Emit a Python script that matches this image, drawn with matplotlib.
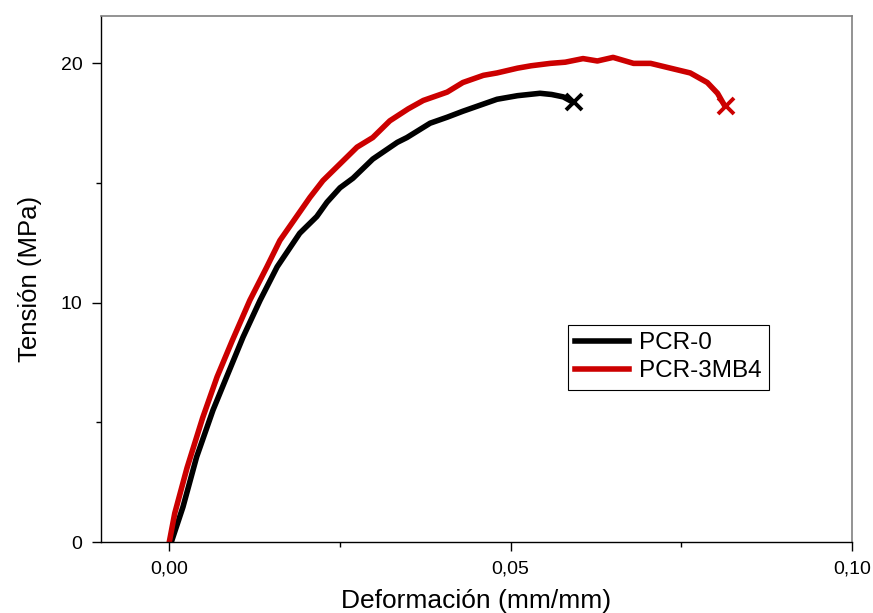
import matplotlib.pyplot as plt
from matplotlib.ticker import MultipleLocator, FuncFormatter

plt.rcParams['font.family'] = ['Liberation Sans', 'DejaVu Sans']

# -----------------------------
# DATOS
# -----------------------------

def_pcr0 = [0.0003, 0.0020, 0.0040, 0.0064, 0.0084, 0.0108, 0.0133, 0.0158,
            0.0191, 0.0216, 0.0231, 0.0250, 0.0269, 0.0298, 0.0334, 0.0348,
            0.0382, 0.0407, 0.0430, 0.0460, 0.0480, 0.0510, 0.0543, 0.0560,
            0.0577, 0.0590]
ten_pcr0 = [0.0, 1.46, 3.55, 5.51, 6.9, 8.56, 10.1, 11.5,
            12.9, 13.6, 14.2, 14.8, 15.2, 16.0, 16.7, 16.9,
            17.5, 17.75, 18.0, 18.3, 18.5, 18.65, 18.75, 18.7,
            18.6, 18.4]

def_pcr3 = [0.0, 0.0008, 0.0026, 0.0049, 0.0070, 0.0092, 0.0118, 0.0143,
            0.0162, 0.0184, 0.0206, 0.0225, 0.0250, 0.0275, 0.0298, 0.0323,
            0.0350, 0.0372, 0.0407, 0.0430, 0.0460, 0.0480, 0.0510, 0.0530,
            0.0558, 0.0580, 0.0606, 0.0627, 0.0650, 0.0680, 0.0705, 0.0734,
            0.0763, 0.0788, 0.0803, 0.0812]
ten_pcr3 = [0.0, 1.2, 3.1, 5.2, 6.9, 8.4, 10.1, 11.5,
            12.6, 13.5, 14.4, 15.1, 15.8, 16.5, 16.9, 17.6,
            18.1, 18.45, 18.8, 19.2, 19.5, 19.6, 19.8, 19.9,
            20.0, 20.05, 20.2, 20.1, 20.25, 20.0, 20.0, 19.8,
            19.6, 19.2, 18.75, 18.3]

# puntos de rotura
rotura_x = [0.0593, 0.0815]
rotura_y = [18.4, 18.2]

negro = "#000000"
rojo = "#cc0000"

# -----------------------------
# GRÁFICO
# -----------------------------

fig = plt.figure(figsize=(8.73, 6.13), dpi=100)
ax = fig.add_axes([0.1157, 0.1158, 0.8603, 0.8589])

ax.plot(def_pcr0, ten_pcr0, color=negro, lw=4.0, label="PCR-0")
ax.plot(def_pcr3, ten_pcr3, color=rojo, lw=4.0, label="PCR-3MB4")
ax.plot(rotura_x[0], rotura_y[0], "x", color=negro, ms=11, mew=2.8)
ax.plot(rotura_x[1], rotura_y[1], "x", color=rojo, ms=11, mew=2.8)

ax.set_xlim(-0.01, 0.10)
ax.set_ylim(0, 22)

ax.xaxis.set_major_locator(MultipleLocator(0.05))
ax.xaxis.set_minor_locator(MultipleLocator(0.025))
ax.yaxis.set_major_locator(MultipleLocator(10))
ax.yaxis.set_minor_locator(MultipleLocator(5))
ax.xaxis.set_major_formatter(FuncFormatter(lambda v, p: f"{v:.2f}".replace(".", ",")))
ax.yaxis.set_major_formatter(FuncFormatter(lambda v, p: f"{v:.0f}"))

ax.tick_params(which="major", direction="out", length=6.5, width=1.0,
               labelsize=14, pad=7, top=False, right=False)
ax.tick_params(which="minor", direction="out", length=3.8, width=1.0,
               top=False, right=False)

for lado in ["left", "bottom"]:
    ax.spines[lado].set_linewidth(1.0)
    ax.spines[lado].set_color("black")
for lado in ["top", "right"]:
    ax.spines[lado].set_linewidth(1.2)
    ax.spines[lado].set_color("#808080")

ax.set_xlabel("Deformación (mm/mm)", fontsize=19, labelpad=8)
ax.set_ylabel("Tensión (MPa)", fontsize=18.5, labelpad=13)

leg = ax.legend(loc="upper left", bbox_to_anchor=(0.622, 0.412),
                borderaxespad=0, fontsize=17.5, handlelength=2.2,
                fancybox=False, framealpha=1, edgecolor="black",
                borderpad=0.3, labelspacing=0.25, handletextpad=0.4)
leg.get_frame().set_linewidth(0.8)

fig.savefig("out.png", dpi=100)
